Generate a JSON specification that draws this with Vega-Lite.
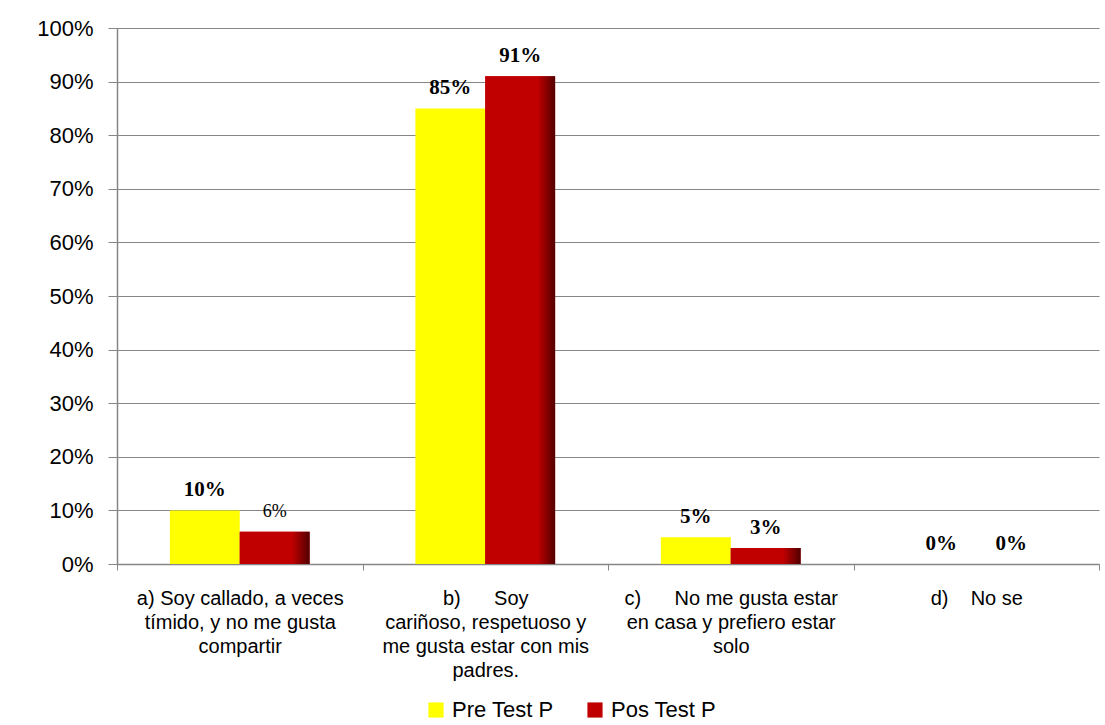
{
  "$schema": "https://vega.github.io/schema/vega-lite/v6.json",
  "autosize": {"type": "none"},
  "padding": {"left": 117, "top": 28, "right": 6, "bottom": 161},
  "width": 982,
  "height": 536,
  "background": "white",
  "config": {
    "view": {"stroke": null},
    "font": "Liberation Sans"
  },
  "data": {
    "values": [
      {"cat": "a) Soy callado, a veces tímido, y no me gusta compartir", "serie": "Pre Test P", "value": 0.10},
      {"cat": "a) Soy callado, a veces tímido, y no me gusta compartir", "serie": "Pos Test P", "value": 0.06},
      {"cat": "b) Soy cariñoso, respetuoso y me gusta estar con mis padres.", "serie": "Pre Test P", "value": 0.85},
      {"cat": "b) Soy cariñoso, respetuoso y me gusta estar con mis padres.", "serie": "Pos Test P", "value": 0.91},
      {"cat": "c) No me gusta estar en casa y prefiero estar solo", "serie": "Pre Test P", "value": 0.05},
      {"cat": "c) No me gusta estar en casa y prefiero estar solo", "serie": "Pos Test P", "value": 0.03},
      {"cat": "d) No se", "serie": "Pre Test P", "value": 0.0},
      {"cat": "d) No se", "serie": "Pos Test P", "value": 0.0}
    ]
  },
  "encoding": {
    "x": {
      "field": "cat", "type": "nominal", "sort": null, "title": null,
      "scale": {"paddingInner": 0, "paddingOuter": 0},
      "axis": {
        "labelAngle": 0,
        "tickBand": "extent",
        "tickSize": 6,
        "tickColor": "#868686",
        "domainColor": "#868686",
        "domainWidth": 1.5,
        "labelFont": "Liberation Sans",
        "labelFontSize": 20,
        "labelColor": "#000000",
        "labelLineHeight": 24,
        "labelPadding": 18,
        "labelLimit": 0,
        "labelExpr": "datum.value == 'a) Soy callado, a veces tímido, y no me gusta compartir' ? ['a) Soy callado, a veces','tímido, y no me gusta','compartir'] : datum.value == 'b) Soy cariñoso, respetuoso y me gusta estar con mis padres.' ? ['b)\u00a0\u00a0\u00a0\u00a0\u00a0\u00a0Soy','cariñoso, respetuoso y','me gusta estar con mis','padres.'] : datum.value == 'c) No me gusta estar en casa y prefiero estar solo' ? ['c)\u00a0\u00a0\u00a0\u00a0\u00a0\u00a0No me gusta estar','en casa y prefiero estar','solo'] : datum.value == 'd) No se' ? ['d)\u00a0\u00a0\u00a0\u00a0No se'] : ''"
      }
    },
    "xOffset": {"field": "serie", "type": "nominal", "sort": ["Pre Test P", "Pos Test P"], "scale": {"domain": ["Pre Test P", "Pos Test P"], "paddingOuter": 0.757, "paddingInner": 0}},
    "y": {
      "field": "value", "type": "quantitative", "title": null,
      "scale": {"domain": [0, 1]},
      "axis": {
        "format": ".0%",
        "values": [0, 0.1, 0.2, 0.3, 0.4, 0.5, 0.6, 0.7, 0.8, 0.9, 1],
        "tickSize": 9,
        "tickColor": "#868686",
        "domainColor": "#868686",
        "domainWidth": 1.5,
        "gridColor": "#868686",
        "gridWidth": 1.2,
        "labelFont": "Liberation Sans",
        "labelFontSize": 22,
        "labelColor": "#000000",
        "labelPadding": 15
      }
    }
  },
  "layer": [
    {
      "mark": {"type": "bar"},
      "encoding": {
        "color": {
          "field": "serie", "type": "nominal", "sort": ["Pre Test P", "Pos Test P"],
          "scale": {"domain": ["Pre Test P", "Pos Test P"], "range": ["#FFFF00", "#C00000"]},
          "legend": {
            "title": null,
            "orient": "none",
            "legendX": 308,
            "legendY": 671,
            "direction": "horizontal",
            "symbolType": "square",
            "symbolSize": 230,
            "symbolStrokeWidth": 0,
            "labelFont": "Liberation Sans",
            "labelFontSize": 22,
            "labelColor": "#000000",
            "columnPadding": 30,
            "labelOffset": 5
          }
        }
      }
    },
    {
      "transform": [{"filter": "datum.serie == 'Pos Test P'"}],
      "mark": {
        "type": "bar",
        "color": {"gradient": "linear", "x1": 0, "y1": 0, "x2": 1, "y2": 0, "stops": [{"offset": 0, "color": "#C00000"}, {"offset": 0.75, "color": "#C00000"}, {"offset": 1, "color": "#520000"}]}
      }
    },
    {
      "transform": [{"filter": "!(datum.serie == 'Pos Test P' && datum.value == 0.06)"}],
      "mark": {"type": "text", "baseline": "alphabetic", "dy": -14, "font": "Liberation Serif", "fontWeight": "bold", "fontSize": 21, "color": "#000000"},
      "encoding": {"text": {"field": "value", "type": "quantitative", "format": ".0%"}}
    },
    {
      "transform": [{"filter": "datum.serie == 'Pos Test P' && datum.value == 0.06"}],
      "mark": {"type": "text", "baseline": "alphabetic", "dy": -15, "font": "Liberation Serif", "fontSize": 18, "color": "#000000"},
      "encoding": {"text": {"field": "value", "type": "quantitative", "format": ".0%"}}
    }
  ]
}
